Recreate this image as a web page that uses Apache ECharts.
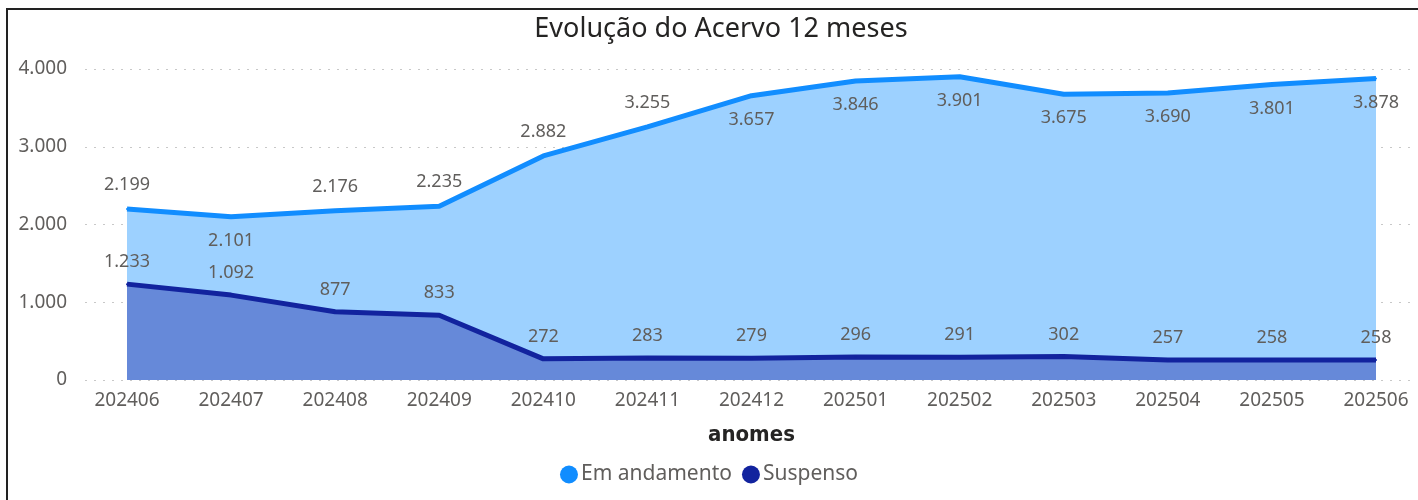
<!DOCTYPE html>
<html>
<head>
<meta charset="utf-8">
<script src="https://cdn.jsdelivr.net/npm/echarts@6/dist/echarts.min.js"></script>
<style>
html,body{margin:0;padding:0;background:#fff;}
#frame{position:absolute;left:6px;top:8px;width:1420px;height:500px;border-left:2px solid #222;border-top:2px solid #222;box-sizing:border-box;}
#chart{position:absolute;left:0;top:0;width:1418px;height:500px;}
</style>
</head>
<body>
<div id="frame"></div>
<div id="chart"></div>
<script>
const categories = ['202406','202407','202408','202409','202410','202411','202412','202501','202502','202503','202504','202505','202506'];
const emAndamento = [2199, 2101, 2176, 2235, 2882, 3255, 3657, 3846, 3901, 3675, 3690, 3801, 3878];
const suspenso = [1233, 1092, 877, 833, 272, 283, 279, 296, 291, 302, 257, 258, 258];
const yTicks = [0, 1000, 2000, 3000, 4000];
const emLabelPos = ['top','bottom','top','top','top','top','bottom','bottom','bottom','bottom','bottom','bottom','bottom'];

const fmt = v => String(v).replace(/\B(?=(\d{3})+(?!\d))/g, '.');
const FONT = '"Noto Sans", "Open Sans", sans-serif';

const chart = echarts.init(document.getElementById('chart'), null, {renderer:'canvas'});
chart.setOption({
  animation:false,
  backgroundColor:'transparent',
  title:{
    text:'Evolução do Acervo 12 meses',
    left:716, top:11, textAlign:'center',
    textStyle:{fontFamily:'"Noto Sans", sans-serif', fontSize:27, fontWeight:'normal', color:'#252423'}
  },
  legend:{
    data:['Em andamento','Suspenso'],
    left:'center', top:459, itemGap:10,
    icon:'circle', itemWidth:18, itemHeight:18,
    textStyle:{fontFamily:FONT, fontSize:21, color:'#605E5C', padding:[0,0,0,-2]}
  },
  grid:[
    {left:85, right:3, top:69, bottom:120},
    {left:127, right:42, top:69, bottom:120}
  ],
  xAxis:[
    {gridIndex:0, type:'category', data:categories, show:false},
    {gridIndex:1, type:'category', data:categories, boundaryGap:false,
     axisLine:{show:false}, axisTick:{show:false},
     axisLabel:{fontFamily:FONT, fontSize:19, color:'#605E5C', margin:11},
     name:'anomes', nameLocation:'middle', nameGap:44,
     nameTextStyle:{fontFamily:'"DejaVu Sans Condensed", "Noto Sans", sans-serif', fontSize:22, fontWeight:'bold', color:'#252423'}}
  ],
  yAxis:[
    {gridIndex:0, type:'value', min:yTicks[0], max:yTicks[yTicks.length-1], interval:1000,
     axisLine:{show:false}, axisTick:{show:false},
     axisLabel:{fontFamily:FONT, fontSize:19, color:'#605E5C', margin:18, formatter:v=>fmt(v)},
     splitLine:{show:true, lineStyle:{color:'#c8c8c8', width:1, type:[2,7]}}},
    {gridIndex:1, type:'value', min:yTicks[0], max:yTicks[yTicks.length-1], interval:1000, show:false, splitLine:{show:false}}
  ],
  series:[
    {name:'Em andamento', type:'line', xAxisIndex:1, yAxisIndex:1,
     data:emAndamento.map((v,i)=>({value:v, label:{position:emLabelPos[i]}})),
     symbol:'circle', symbolSize:2, itemStyle:{color:'#118DFF'},
     lineStyle:{color:'#118DFF', width:5},
     areaStyle:{color:'#9DD1FF', opacity:1},
     label:{show:true, distance:14, fontFamily:FONT, fontSize:18, color:'#605E5C', formatter:p=>fmt(p.value)},
     z:2},
    {name:'Suspenso', type:'line', xAxisIndex:1, yAxisIndex:1,
     data:suspenso,
     symbol:'circle', symbolSize:2, itemStyle:{color:'#12239E'},
     lineStyle:{color:'#12239E', width:5},
     areaStyle:{color:'#6689D9', opacity:1},
     label:{show:true, position:'top', distance:12, fontFamily:FONT, fontSize:18, color:'#605E5C', formatter:p=>fmt(p.value)},
     z:3}
  ]
});
</script>
</body>
</html>
